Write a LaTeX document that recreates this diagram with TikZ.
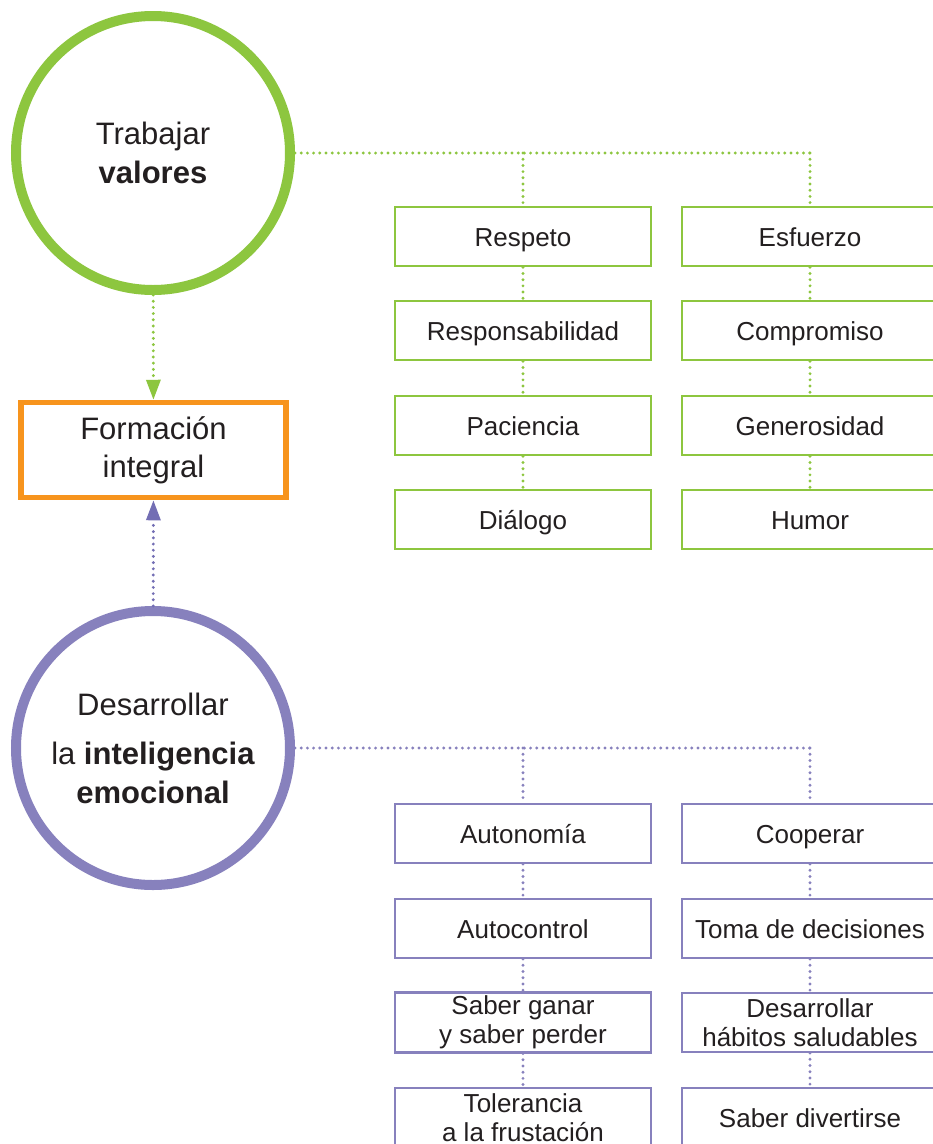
\documentclass[tikz,border=0pt]{standalone}
\usepackage{fontspec}
\setmainfont{Liberation Sans}
\usetikzlibrary{arrows.meta}
\definecolor{valgreen}{HTML}{8DC63F}
\definecolor{emopurple}{HTML}{8781BD}
\definecolor{arrpurple}{HTML}{736EB4}
\definecolor{integorange}{HTML}{F7941D}
\definecolor{inkgray}{HTML}{231F20}
\tikzset{
  goal/.style={circle, line width=10pt, minimum size=274pt, inner sep=0pt,
    align=center, text=inkgray, font=\fontsize{31}{39}\selectfont},
  valbox/.style={draw=valgreen, line width=2.5pt, minimum width=256pt,
    minimum height=59pt, align=center, text=inkgray,
    text height=23pt, text depth=4pt,
    font=\fontsize{26}{29}\selectfont},
  emobox/.style={valbox, draw=emopurple, line width=2.2pt},
  twolines/.style={text height=, text depth=},
  link/.style={line width=3.2pt, line cap=round, dash pattern=on 0pt off 6.2pt},
  tip/.style={-{Triangle[width=14pt,length=20pt]}},
}
\begin{document}
\begin{tikzpicture}[x=1pt, y=-1pt]
      \fill[white] (0,0) rectangle (933,1144);
      \useasboundingbox (0,0) rectangle (933,1144);
      \node[goal, draw=valgreen] (val) at (153,153) {Trabajar\\\textbf{valores}};
      \node[draw=integorange, line width=5.5pt, minimum width=265pt,
        minimum height=95pt, align=center, text=inkgray,
        font=\fontsize{31}{38}\selectfont] (form) at (153.5,450) {Formación\\integral};
      \node[goal, draw=emopurple] (emo) at (153,748)
        {Desarrollar\\[10pt]la \textbf{inteligencia}\\\textbf{emocional}};
      % valores
      \draw
        (523,236.5) node[valbox] (v1){Respeto}
        (523,330.5) node[valbox] (v2){Responsabilidad}
        (523,425.5) node[valbox] (v3){Paciencia}
        (523,519.5) node[valbox] (v4){Diálogo}
        (810,236.5) node[valbox] (v5){Esfuerzo}
        (810,330.5) node[valbox] (v6){Compromiso}
        (810,425.5) node[valbox] (v7){Generosidad}
        (810,519.5) node[valbox] (v8){Humor};
      % inteligencia emocional
      \draw
        (523,833.5) node[emobox] (e1){Autonomía}
        (523,928.5) node[emobox] (e2){Autocontrol}
        (523,1022.5) node[emobox, twolines] (e3){Saber ganar\\y saber perder}
        (523,1117.5) node[emobox, twolines] (e4){Tolerancia\\a la frustación}
        (810,833.5) node[emobox] (e5){Cooperar}
        (810,928.5) node[emobox] (e6){Toma de decisiones}
        (810,1022.5) node[emobox, twolines] (e7){Desarrollar\\hábitos saludables}
        (810,1117.5) node[emobox] (e8){Saber divertirse};
      \coordinate (vj1) at (523,153);
      \coordinate (vj2) at (810,153);
      \coordinate (ej1) at (523,748);
      \coordinate (ej2) at (810,748);
      \begin{scope}[link, valgreen]
        \draw[tip] (val) to (form);
        \draw (val) to (vj2);
        \draw (vj1) to (v1);
        \draw (vj2) to (v5);
        \draw (v1) to (v2);
        \draw (v2) to (v3);
        \draw (v3) to (v4);
        \draw (v5) to (v6);
        \draw (v6) to (v7);
        \draw (v7) to (v8);
      \end{scope}
      \begin{scope}[link, emopurple]
        \draw[tip, arrpurple] (emo) to (form);
        \draw (emo) to (ej2);
        \draw (ej1) to (e1);
        \draw (ej2) to (e5);
        \draw (e1) to (e2);
        \draw (e2) to (e3);
        \draw (e3) to (e4);
        \draw (e5) to (e6);
        \draw (e6) to (e7);
        \draw (e7) to (e8);
      \end{scope}
    \end{tikzpicture}
\end{document}
